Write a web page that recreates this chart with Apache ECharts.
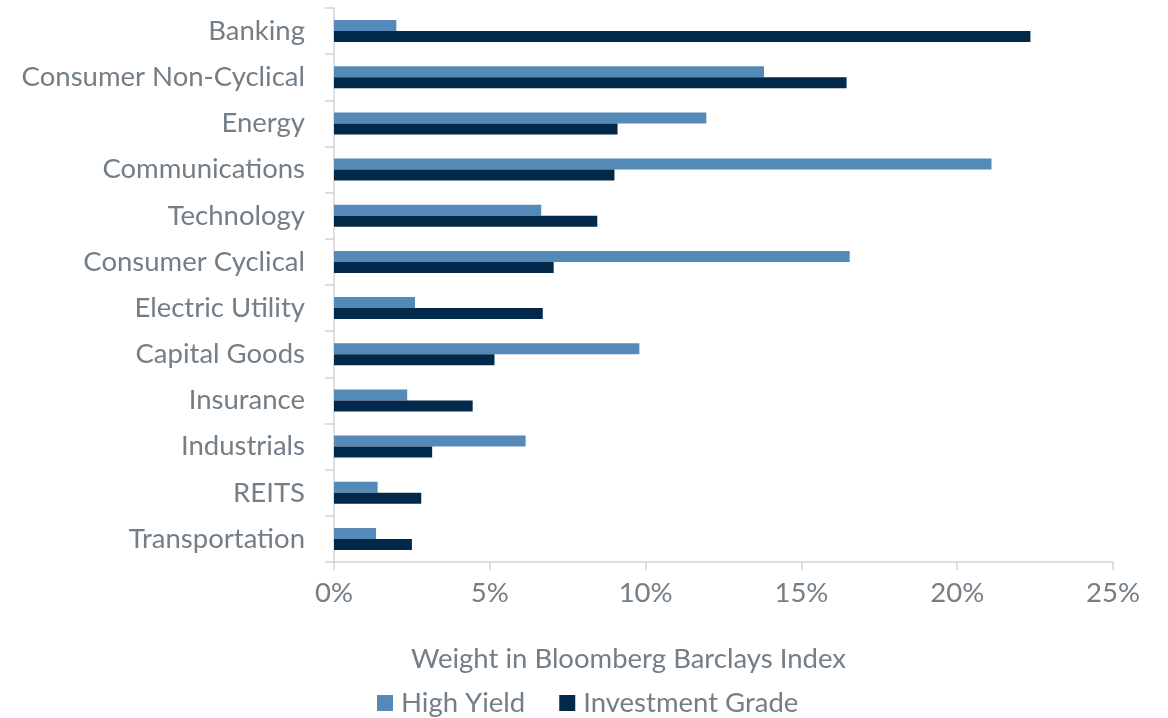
<!DOCTYPE html>
<html>
<head>
<meta charset="utf-8">
<script src="https://cdn.jsdelivr.net/npm/echarts@6/dist/echarts.min.js"></script>
<style>
  html, body { margin: 0; padding: 0; background: #fff; }
  #chart { width: 1168px; height: 718px; }
</style>
</head>
<body>
<div id="chart"></div>
<script>
// sectors, listed top to bottom as in the picture
const categories = ['Banking', 'Consumer Non-Cyclical', 'Energy', 'Communications', 'Technology',
  'Consumer Cyclical', 'Electric Utility', 'Capital Goods', 'Insurance', 'Industrials', 'REITS', 'Transportation']
const highYield = [2.0, 13.8, 11.95, 21.1, 6.65, 16.55, 2.6, 9.8, 2.35, 6.15, 1.4, 1.35]
const investmentGrade = [22.35, 16.45, 9.1, 9.0, 8.45, 7.05, 6.7, 5.15, 4.45, 3.15, 2.8, 2.5]
const xTicks = [0, 5, 10, 15, 20, 25]

const font = 'Source Sans Pro, Lato, Noto Sans, sans-serif'
const textColor = '#737e87'
const axisColor = '#d4d4d4'
const fs = 27.5

const chart = echarts.init(document.getElementById('chart'))
chart.setOption({
    animation: false,
    textStyle: { fontFamily: font },
    title: {
        text: 'Weight in Bloomberg Barclays Index',
        left: 406,
        top: 640,
        textStyle: { fontFamily: font, fontSize: fs, fontWeight: 'normal', color: textColor }
    },
    legend: {
        bottom: -4,
        left: 372,
        itemWidth: 16,
        itemHeight: 16,
        itemGap: 34,
        icon: 'rect',
        textStyle: { fontFamily: font, fontSize: fs, color: textColor, padding: [0, 0, 0, 3] },
        data: ['High Yield', 'Investment Grade']
    },
    grid: { left: 334, right: 55, top: 8, bottom: 156 },
    xAxis: {
        type: 'value',
        min: xTicks[0],
        max: xTicks[xTicks.length - 1],
        interval: 5,
        splitLine: { show: false },
        axisLine: { show: true, lineStyle: { color: axisColor, width: 1.5 } },
        axisTick: { show: true, length: 8, lineStyle: { color: axisColor, width: 1.5 } },
        axisLabel: { formatter: '{value}%', fontSize: fs, color: textColor, margin: 17, fontFamily: font }
    },
    yAxis: {
        type: 'category',
        inverse: true,
        data: categories,
        axisLine: { lineStyle: { color: axisColor, width: 1.5 } },
        axisTick: { show: true, length: 9, lineStyle: { color: axisColor, width: 1.5 } },
        axisLabel: { fontSize: fs, color: textColor, margin: 29, fontFamily: font }
    },
    series: [
        {
            name: 'High Yield',
            type: 'bar',
            data: highYield,
            barWidth: 11,
            barGap: '0%',
            itemStyle: { color: '#558ab8' }
        },
        {
            name: 'Investment Grade',
            type: 'bar',
            data: investmentGrade,
            barWidth: 11,
            barGap: '0%',
            itemStyle: { color: '#02284a' }
        }
    ]
})
</script>
</body>
</html>
